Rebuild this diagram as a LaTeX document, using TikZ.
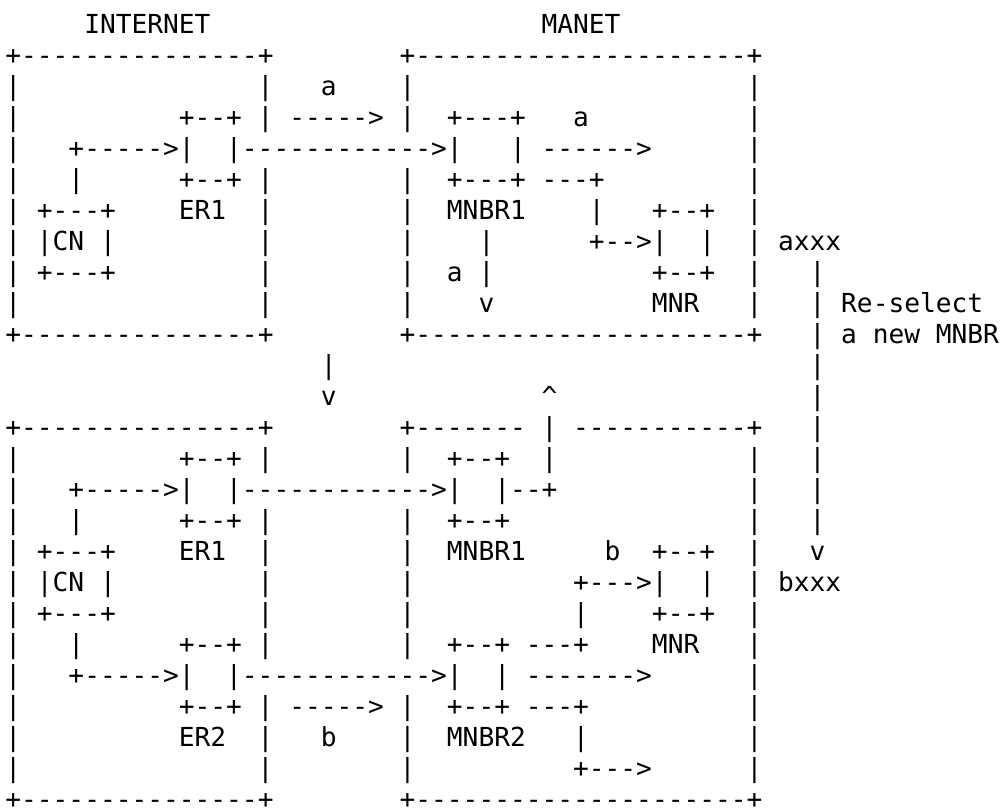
\documentclass[tikz,border=0pt]{standalone}
\usepackage{fontspec}
\setmonofont{DejaVu Sans Mono}
\tikzset{
  txt/.style={anchor=base west, inner sep=0pt, outer sep=0pt,
    font=\ttfamily\fontsize{19.65pt}{23pt}\selectfont, text=black}
}
\newcommand{\cellat}[3]{\node[txt] (t#1r#2) at ({4.05pt+11.8275pt*#1},{-24.975pt-23.265pt*#2}) {#3};}
\newcommand{\edgeLft}{+---------------+}
\newcommand{\edgeRgt}{+---------------------+}
\begin{document}
\begin{tikzpicture}
\useasboundingbox[fill=white] (0,0) rectangle (754.5pt,-607.5pt);
% row 0
\cellat{5}{0}{INTERNET} \cellat{34}{0}{MANET}
% row 1
\cellat{0}{1}{\edgeLft} \cellat{25}{1}{\edgeRgt}
% row 2
\cellat{0}{2}{|} \cellat{16}{2}{|} \cellat{20}{2}{a} \cellat{25}{2}{|} \cellat{47}{2}{|}
% row 3
\cellat{0}{3}{|} \cellat{11}{3}{+--+} \cellat{16}{3}{|} \cellat{18}{3}{----->} \cellat{25}{3}{|} \cellat{28}{3}{+---+} \cellat{36}{3}{a} \cellat{47}{3}{|}
% row 4
\cellat{0}{4}{|} \cellat{4}{4}{+----->|} \cellat{14}{4}{|------------>|} \cellat{32}{4}{|} \cellat{34}{4}{------>} \cellat{47}{4}{|}
% row 5
\cellat{0}{5}{|} \cellat{4}{5}{|} \cellat{11}{5}{+--+} \cellat{16}{5}{|} \cellat{25}{5}{|} \cellat{28}{5}{+---+} \cellat{34}{5}{---+} \cellat{47}{5}{|}
% row 6
\cellat{0}{6}{|} \cellat{2}{6}{+---+} \cellat{11}{6}{ER1} \cellat{16}{6}{|} \cellat{25}{6}{|} \cellat{28}{6}{MNBR1} \cellat{37}{6}{|} \cellat{41}{6}{+--+} \cellat{47}{6}{|}
% row 7
\cellat{0}{7}{|} \cellat{2}{7}{|CN~|} \cellat{16}{7}{|} \cellat{25}{7}{|} \cellat{30}{7}{|} \cellat{37}{7}{+-->|} \cellat{44}{7}{|} \cellat{47}{7}{|} \cellat{49}{7}{axxx}
% row 8
\cellat{0}{8}{|} \cellat{2}{8}{+---+} \cellat{16}{8}{|} \cellat{25}{8}{|} \cellat{28}{8}{a} \cellat{30}{8}{|} \cellat{41}{8}{+--+} \cellat{47}{8}{|} \cellat{51}{8}{|}
% row 9
\cellat{0}{9}{|} \cellat{16}{9}{|} \cellat{25}{9}{|} \cellat{30}{9}{v} \cellat{41}{9}{MNR} \cellat{47}{9}{|} \cellat{51}{9}{|} \cellat{53}{9}{Re-select}
% row 10
\cellat{0}{10}{\edgeLft} \cellat{25}{10}{\edgeRgt} \cellat{51}{10}{|} \cellat{53}{10}{a~new~MNBR}
% row 11
\cellat{20}{11}{|} \cellat{51}{11}{|}
% row 12
\cellat{20}{12}{v} \cellat{34}{12}{\textasciicircum} \cellat{51}{12}{|}
% row 13
\cellat{0}{13}{\edgeLft} \cellat{25}{13}{+-------} \cellat{34}{13}{|} \cellat{36}{13}{-----------+} \cellat{51}{13}{|}
% row 14
\cellat{0}{14}{|} \cellat{11}{14}{+--+} \cellat{16}{14}{|} \cellat{25}{14}{|} \cellat{28}{14}{+--+} \cellat{34}{14}{|} \cellat{47}{14}{|} \cellat{51}{14}{|}
% row 15
\cellat{0}{15}{|} \cellat{4}{15}{+----->|} \cellat{14}{15}{|------------>|} \cellat{31}{15}{|--+} \cellat{47}{15}{|} \cellat{51}{15}{|}
% row 16
\cellat{0}{16}{|} \cellat{4}{16}{|} \cellat{11}{16}{+--+} \cellat{16}{16}{|} \cellat{25}{16}{|} \cellat{28}{16}{+--+} \cellat{47}{16}{|} \cellat{51}{16}{|}
% row 17
\cellat{0}{17}{|} \cellat{2}{17}{+---+} \cellat{11}{17}{ER1} \cellat{16}{17}{|} \cellat{25}{17}{|} \cellat{28}{17}{MNBR1} \cellat{38}{17}{b} \cellat{41}{17}{+--+} \cellat{47}{17}{|} \cellat{51}{17}{v}
% row 18
\cellat{0}{18}{|} \cellat{2}{18}{|CN~|} \cellat{16}{18}{|} \cellat{25}{18}{|} \cellat{36}{18}{+--->|} \cellat{44}{18}{|} \cellat{47}{18}{|} \cellat{49}{18}{bxxx}
% row 19
\cellat{0}{19}{|} \cellat{2}{19}{+---+} \cellat{16}{19}{|} \cellat{25}{19}{|} \cellat{36}{19}{|} \cellat{41}{19}{+--+} \cellat{47}{19}{|}
% row 20
\cellat{0}{20}{|} \cellat{4}{20}{|} \cellat{11}{20}{+--+} \cellat{16}{20}{|} \cellat{25}{20}{|} \cellat{28}{20}{+--+} \cellat{33}{20}{---+} \cellat{41}{20}{MNR} \cellat{47}{20}{|}
% row 21
\cellat{0}{21}{|} \cellat{4}{21}{+----->|} \cellat{14}{21}{|------------>|} \cellat{31}{21}{|} \cellat{33}{21}{------->} \cellat{47}{21}{|}
% row 22
\cellat{0}{22}{|} \cellat{11}{22}{+--+} \cellat{16}{22}{|} \cellat{18}{22}{----->} \cellat{25}{22}{|} \cellat{28}{22}{+--+} \cellat{33}{22}{---+} \cellat{47}{22}{|}
% row 23
\cellat{0}{23}{|} \cellat{11}{23}{ER2} \cellat{16}{23}{|} \cellat{20}{23}{b} \cellat{25}{23}{|} \cellat{28}{23}{MNBR2} \cellat{36}{23}{|} \cellat{47}{23}{|}
% row 24
\cellat{0}{24}{|} \cellat{16}{24}{|} \cellat{25}{24}{|} \cellat{36}{24}{+--->} \cellat{47}{24}{|}
% row 25
\cellat{0}{25}{\edgeLft} \cellat{25}{25}{\edgeRgt}
\end{tikzpicture}
\end{document}
